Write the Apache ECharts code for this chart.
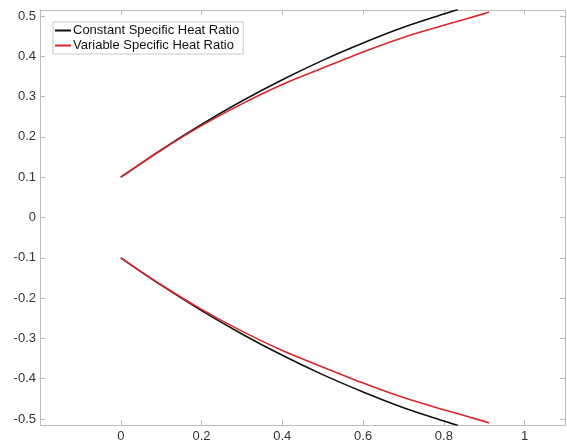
<!DOCTYPE html>
<html><head><meta charset="utf-8">
<script src="https://cdn.jsdelivr.net/npm/echarts@6/dist/echarts.min.js"></script>
<style>html,body{margin:0;padding:0;background:#fff}#c{width:567px;height:445px}</style>
</head><body><div id="c"></div>
<script>
const seriesNames = ['Constant Specific Heat Ratio', 'Variable Specific Heat Ratio'];
const xConst = [0, 0.1, 0.2, 0.3, 0.4, 0.5, 0.6, 0.7, 0.8, 0.835];
const yConstUpper = [0.1, 0.168, 0.231, 0.289, 0.342, 0.390, 0.433, 0.472, 0.505, 0.516];
const yConstLower = [-0.1, -0.168, -0.231, -0.289, -0.342, -0.390, -0.433, -0.472, -0.505, -0.516];
const xVar = [0, 0.1, 0.2, 0.3, 0.4, 0.5, 0.6, 0.7, 0.8, 0.9, 0.912];
const yVarUpper = [0.1, 0.167, 0.228, 0.282, 0.330, 0.371, 0.411, 0.447, 0.477, 0.506, 0.510];
const yVarLower = [-0.1, -0.167, -0.228, -0.282, -0.330, -0.371, -0.411, -0.447, -0.477, -0.506, -0.510];
const xTicks = [0, 0.2, 0.4, 0.6, 0.8, 1];
const yTicks = [-0.5, -0.4, -0.3, -0.2, -0.1, 0, 0.1, 0.2, 0.3, 0.4, 0.5];

const colors = ['#111111', '#d8262b'];
const zip = (xs, ys) => xs.map((x, i) => [x, ys[i]]);
const axisColor = '#bdbdbd';
const labelColor = '#333333';
const font = 'Liberation Sans, Arial, Helvetica, sans-serif';

function mkX(pos, labels) {
  return {
    type: 'value', position: pos, min: -0.2, max: 1.1,
    axisLine: {show: true, onZero: false, lineStyle: {color: axisColor, width: 1}},
    axisTick: {show: true, inside: true, length: 5, customValues: xTicks, lineStyle: {color: axisColor}},
    axisLabel: {show: labels, customValues: xTicks, color: labelColor, fontSize: 13, fontFamily: font, margin: 5,
      formatter: v => String(+v.toFixed(1))},
    splitLine: {show: false}
  };
}
function mkY(pos, labels) {
  return {
    type: 'value', position: pos, min: -0.515, max: 0.515,
    axisLine: {show: true, onZero: false, lineStyle: {color: axisColor, width: 1}},
    axisTick: {show: true, inside: true, length: 5, customValues: yTicks, lineStyle: {color: axisColor}},
    axisLabel: {show: labels, customValues: yTicks, color: labelColor, fontSize: 13, fontFamily: font, margin: 4,
      formatter: v => String(+v.toFixed(1))},
    splitLine: {show: false}
  };
}

const chart = echarts.init(document.getElementById('c'), null, {renderer: 'canvas'});
const lineSeries = (name, data, color) => ({
  name, type: 'line', data, showSymbol: false, symbol: 'none', smooth: 0.3,
  xAxisIndex: 0, yAxisIndex: 0, clip: true,
  lineStyle: {color, width: 1.6}, itemStyle: {color}, animation: false
});
chart.setOption({
  animation: false,
  grid: {left: 40, right: 2, top: 10, bottom: 20, containLabel: false},
  xAxis: [mkX('bottom', true), mkX('top', false)],
  yAxis: [mkY('left', true), mkY('right', false)],
  legend: {
    data: seriesNames, orient: 'vertical', left: 53, top: 22,
    backgroundColor: '#fff', borderColor: '#c8c8c8', borderWidth: 1,
    padding: [2, 4, 2, 2], itemGap: 2, itemWidth: 16, itemHeight: 2, icon: 'rect',
    textStyle: {color: '#111', fontSize: 13, fontFamily: font, padding: [0, 0, 0, -3]}
  },
  series: [
    lineSeries(seriesNames[0], zip(xConst, yConstUpper), colors[0]),
    lineSeries(seriesNames[1], zip(xVar, yVarUpper), colors[1]),
    lineSeries(seriesNames[0], zip(xConst, yConstLower), colors[0]),
    lineSeries(seriesNames[1], zip(xVar, yVarLower), colors[1])
  ]
});
</script></body></html>
